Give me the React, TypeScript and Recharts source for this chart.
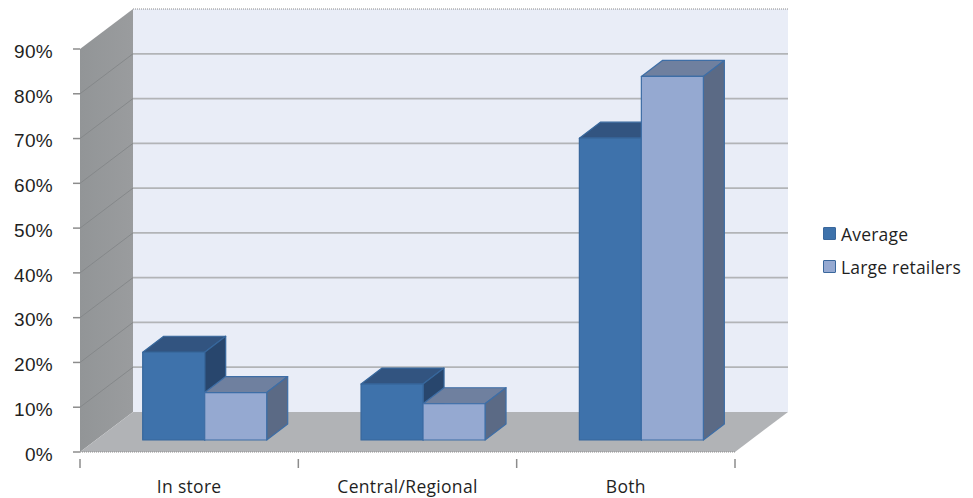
import { BarChart, Bar, XAxis, YAxis, CartesianGrid, Legend } from 'recharts';

const categories = ['In store', 'Central/Regional', 'Both'];
const average = [19.6, 12.5, 67.4];
const largeRetailers = [10.6, 8.1, 81.2];
const yTicks = [0, 10, 20, 30, 40, 50, 60, 70, 80, 90];

const data = categories.map((name, i) => ({
  name,
  average: average[i],
  large: largeRetailers[i],
}));

// plot box and the oblique 3D offsets
const W = 973;
const H = 498;
const LEFT = 80;
const RIGHT = 735;
const TOP = 49;
const BOTTOM = 452;
const WALL_DX = 53;
const WALL_DY = 40;
const BAR_SHIFT_X = 15.7;
const BAR_SHIFT_Y = 12;
const BAR_DX = 21;
const BAR_DY = 16;
const FONT = '"Open Sans", sans-serif';
const TEXT = '#1f1f1f';

const pts = (list: number[][]) => list.map((p) => p.join(',')).join(' ');

const Bar3D = (colors: { front: string; top: string; side: string; stroke: string }) => (props: any) => {
  const x = props.x + BAR_SHIFT_X;
  const y = props.y - BAR_SHIFT_Y;
  const w = props.width;
  const h = props.height;
  return (
    <g stroke={colors.stroke} strokeWidth={1.2} strokeLinejoin="round">
      <polygon fill={colors.top} points={pts([[x, y], [x + BAR_DX, y - BAR_DY], [x + w + BAR_DX, y - BAR_DY], [x + w, y]])} />
      <polygon fill={colors.side} points={pts([[x + w, y], [x + w + BAR_DX, y - BAR_DY], [x + w + BAR_DX, y + h - BAR_DY], [x + w, y + h]])} />
      <rect x={x} y={y} width={w} height={h} fill={colors.front} />
    </g>
  );
};

const GridLine = (props: any) => {
  const { x1, x2, y1 } = props;
  const isTop = Math.abs(y1 - TOP) < 1;
  const isBottom = Math.abs(y1 - BOTTOM) < 1;
  if (isBottom) return <g />;
  return (
    <g fill="none">
      {!isTop && <line x1={x1} y1={y1} x2={x1 + WALL_DX} y2={y1 - WALL_DY} stroke="#85888a" strokeWidth={1} />}
      <line
        x1={x1 + WALL_DX}
        y1={y1 - WALL_DY}
        x2={x2 + WALL_DX}
        y2={y1 - WALL_DY}
        stroke={isTop ? '#8a8a8a' : '#b2b4b7'}
        strokeWidth={isTop ? 1 : 1.7}
        strokeDasharray={isTop ? '1 1' : undefined}
      />
    </g>
  );
};

const CategoryTick = (props: any) => {
  const { x, y, payload, index } = props;
  const band = (RIGHT - LEFT) / categories.length;
  const left = x - band / 2;
  return (
    <g>
      <line x1={left} y1={y - 1} x2={left} y2={y + 8} stroke="#8c8c8c" strokeWidth={1.5} />
      {index === categories.length - 1 && (
        <line x1={left + band} y1={y - 1} x2={left + band} y2={y + 8} stroke="#8c8c8c" strokeWidth={1.5} />
      )}
      <text x={x} y={y + 33} textAnchor="middle" fontSize={17.5} letterSpacing={0.3} fontFamily={FONT} fill={TEXT}>
        {payload.value}
      </text>
    </g>
  );
};

const LegendBox = (props: any) => (
  <div style={{ fontFamily: FONT, fontSize: 17.5, letterSpacing: 0.2, color: TEXT }}>
    {props.payload.map((item: any) => (
      <div key={item.value} style={{ display: 'flex', alignItems: 'center', height: 33, whiteSpace: 'nowrap' }}>
        <span
          style={{
            width: 11,
            height: 11,
            marginRight: 5,
            background: item.color,
            border: '1.5px solid #3a679c',
            borderRadius: 1,
            display: 'inline-block',
          }}
        />
        {item.value}
      </div>
    ))}
  </div>
);

export default function App() {
  return (
    <div style={{ position: 'absolute', left: 0, top: 0, width: W, height: H }}>
      <BarChart
        width={W}
        height={H}
        data={data}
        margin={{ top: TOP, right: W - RIGHT, left: 0, bottom: 0 }}
        barCategoryGap={47}
        barGap={0}
        style={{ overflow: 'visible' }}
      >
        <defs>
          <linearGradient id="wall" x1="0" y1="0" x2="1" y2="0">
            <stop offset="0" stopColor="#929597" />
            <stop offset="1" stopColor="#9a9c9e" />
          </linearGradient>
        </defs>
        <polygon
          fill="#e9edf7"
          points={pts([
            [LEFT + WALL_DX, TOP - WALL_DY],
            [RIGHT + WALL_DX, TOP - WALL_DY],
            [RIGHT + WALL_DX, BOTTOM - WALL_DY],
            [LEFT + WALL_DX, BOTTOM - WALL_DY],
          ])}
        />
        <polygon
          fill="url(#wall)"
          points={pts([
            [LEFT, TOP],
            [LEFT + WALL_DX, TOP - WALL_DY],
            [LEFT + WALL_DX, BOTTOM - WALL_DY],
            [LEFT, BOTTOM],
          ])}
        />
        <polygon
          fill="#b1b3b6"
          points={pts([
            [LEFT, BOTTOM],
            [LEFT + WALL_DX, BOTTOM - WALL_DY],
            [RIGHT + WALL_DX, BOTTOM - WALL_DY],
            [RIGHT, BOTTOM],
          ])}
        />
        <CartesianGrid vertical={false} horizontal={GridLine} syncWithTicks zIndex={100} />
        <XAxis
          dataKey="name"
          interval={0}
          height={H - BOTTOM}
          stroke="#8c8c8c"
          strokeDasharray="1 1"
          tickLine={false}
          tick={CategoryTick}
        />
        <YAxis
          domain={[0, 90]}
          ticks={yTicks}
          interval={0}
          width={LEFT}
          tickFormatter={(v: number) => `${v}%`}
          axisLine={false}
          tickLine={{ stroke: '#8c8c8c', strokeWidth: 1.5 }}
          tickSize={7}
          tickMargin={20}
          tick={{ fontSize: 19, letterSpacing: 0.3, dy: 2, fontFamily: '"Liberation Sans", Arial, sans-serif', fill: TEXT }}
        />
        <Legend
          layout="vertical"
          align="center"
          verticalAlign="middle"
          content={LegendBox}
          wrapperStyle={{ left: 823, top: 217, width: 150 }}
        />
        <Bar
          dataKey="average"
          name="Average"
          fill="#3e72ab"
          isAnimationActive={false}
          shape={Bar3D({ front: '#3e72ab', top: '#325480', side: '#28466d', stroke: '#37679c' })}
        />
        <Bar
          dataKey="large"
          name="Large retailers"
          fill="#95a9d1"
          isAnimationActive={false}
          shape={Bar3D({ front: '#95a9d1', top: '#6f809f', side: '#5b6a85', stroke: '#3e6ea6' })}
        />
      </BarChart>
    </div>
  );
}
